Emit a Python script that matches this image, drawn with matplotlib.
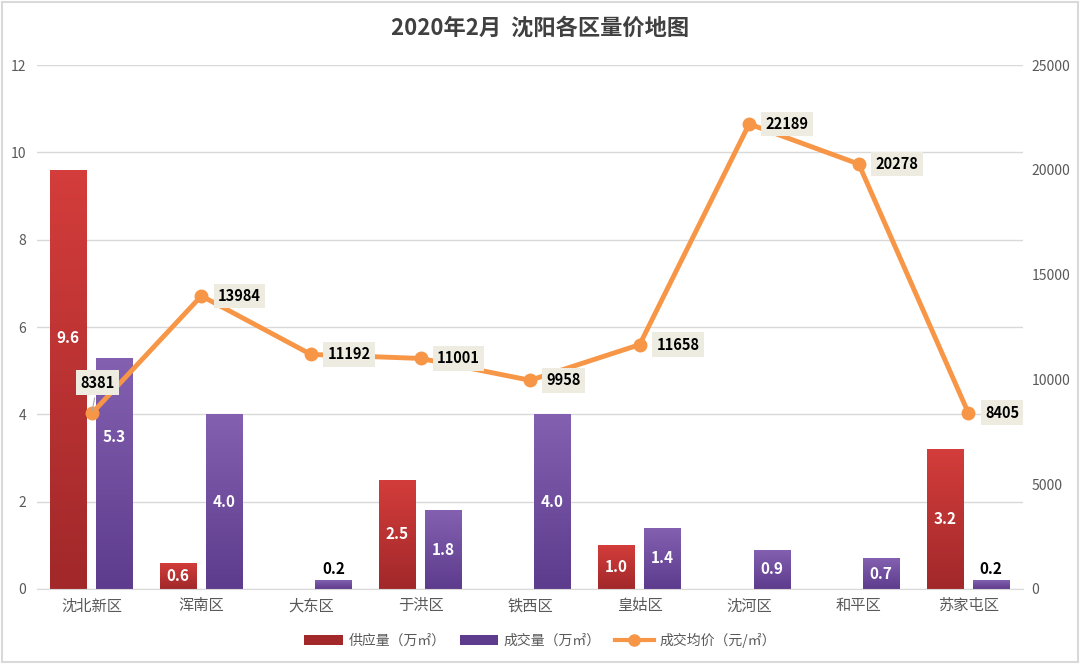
import numpy as np
import matplotlib
matplotlib.use("Agg")
import matplotlib.pyplot as plt
from matplotlib.patches import Rectangle, Patch
from matplotlib.lines import Line2D
from matplotlib.colors import LinearSegmentedColormap

plt.rcParams['font.family'] = ['Noto Sans CJK SC', 'DejaVu Sans']

# DATA
districts = ["沈北新区", "浑南区", "大东区", "于洪区", "铁西区", "皇姑区", "沈河区", "和平区", "苏家屯区"]
supply = [9.6, 0.6, 0, 2.5, 0, 1.0, 0, 0, 3.2]          # 供应量（万㎡）
deals = [5.3, 4.0, 0.2, 1.8, 4.0, 1.4, 0.9, 0.7, 0.2]    # 成交量（万㎡）
price = [8381, 13984, 11192, 11001, 9958, 11658, 22189, 20278, 8405]  # 成交均价（元/㎡）

RED_TOP, RED_BOT = "#D33D3B", "#A2282A"
PUR_TOP, PUR_BOT = "#8360B0", "#5E3C8D"
ORANGE = "#F79646"
GRID = "#D9D9D9"
TICK = "#595959"

# labels moved off centre in the original so they don't hit the price label
label_shift = {("s", 0): 5.75, ("d", 0): 3.48}

fig = plt.figure(figsize=(10.8, 6.64), dpi=100)
ax = fig.add_axes([0.0343, 0.113, 0.913, 0.789])
x = np.arange(len(districts))
w = 0.33

red_bars = ax.bar(x - 0.215, supply, w, color=RED_BOT, zorder=2)
pur_bars = ax.bar(x + 0.205, deals, w, color=PUR_BOT, zorder=2)


def gradient_fill(bars, top, bottom):
    cmap = LinearSegmentedColormap.from_list("g", [bottom, top])
    grad = np.linspace(0, 1, 100).reshape(-1, 1)
    for bar in bars:
        h = bar.get_height()
        if h <= 0:
            continue
        x0, y0 = bar.get_xy()
        im = ax.imshow(grad, extent=[x0, x0 + bar.get_width(), y0, y0 + h],
                       origin="lower", cmap=cmap, aspect="auto", zorder=2.1)
        im.set_clip_path(bar)


gradient_fill(red_bars, RED_TOP, RED_BOT)
gradient_fill(pur_bars, PUR_TOP, PUR_BOT)

# bar value labels
for key, bars, vals in (("s", red_bars, supply), ("d", pur_bars, deals)):
    for i, (bar, v) in enumerate(zip(bars, vals)):
        if v <= 0:
            continue
        cx = bar.get_x() + bar.get_width() / 2
        if v < 0.5:
            ax.text(cx, v + 0.08, f"{v:.1f}", ha="center", va="bottom",
                    fontsize=11, fontweight="bold", color="black", zorder=4)
        else:
            ty = label_shift.get((key, i), v / 2)
            ax.text(cx, ty, f"{v:.1f}", ha="center", va="center",
                    fontsize=11, fontweight="bold", color="white", zorder=4)

ax.set_xlim(-0.5, len(districts) - 0.5)
ax.set_ylim(0, 12)
ax.set_yticks(np.arange(0, 13, 2))
ax.set_xticks(x)
ax.set_xticklabels(districts, fontsize=11, color="#404040")
ax.yaxis.grid(True, color=GRID, lw=1)
ax.set_axisbelow(True)
for s in ("top", "left", "right"):
    ax.spines[s].set_visible(False)
ax.spines["bottom"].set_color(GRID)
ax.tick_params(axis="both", length=0, labelcolor=TICK)
ax.tick_params(axis="y", labelsize=10, pad=8)
ax.tick_params(axis="x", pad=6)

# price line on right axis
ax2 = ax.twinx()
ax2.plot(x, price, color=ORANGE, lw=3.5, marker="o", ms=9, zorder=3)
ax2.set_ylim(0, 25000)
ax2.set_yticks(np.arange(0, 25001, 5000))
ax2.tick_params(axis="y", length=0, labelcolor=TICK, labelsize=10, pad=6)
for s in ("top", "left", "right", "bottom"):
    ax2.spines[s].set_visible(False)

box = dict(boxstyle="square,pad=0.3", fc="#EEECE1", ec="none")
for i, p in enumerate(price):
    if i == 0:
        ax2.annotate(f"{p}", (x[i], p), xytext=(4, 22), textcoords="offset points",
                     ha="center", va="center", fontsize=10.5, fontweight="bold",
                     color="black", bbox=box, zorder=5,
                     arrowprops=dict(arrowstyle="-", color="#A6A6A6", lw=0.8))
    else:
        ax2.annotate(f"{p}", (x[i], p), xytext=(12, 0), textcoords="offset points",
                     ha="left", va="center", fontsize=10.5, fontweight="bold",
                     color="black", bbox=box, zorder=5)

# title
fig.text(0.5, 0.958, "2020年2月  沈阳各区量价地图", ha="center", va="center",
         fontsize=16, fontweight="bold", color="#404040")

# legend
handles = [Patch(fc=RED_BOT), Patch(fc=PUR_BOT),
           Line2D([0], [0], color=ORANGE, lw=3, marker="o", ms=8)]
labels = ["供应量（万㎡）", "成交量（万㎡）", "成交均价（元/㎡）"]
fig.legend(handles, labels, loc="center", bbox_to_anchor=(0.5, 0.036), ncol=3,
           frameon=False, fontsize=10, labelcolor=TICK, handlelength=2.8,
           handleheight=0.8, columnspacing=1.0, handletextpad=0.4)

# outer border
fig.patches.append(Rectangle((0.002, 0.003), 0.996, 0.994, transform=fig.transFigure,
                             fill=False, ec=GRID, lw=1.5))

fig.savefig("out.png", dpi=100)
